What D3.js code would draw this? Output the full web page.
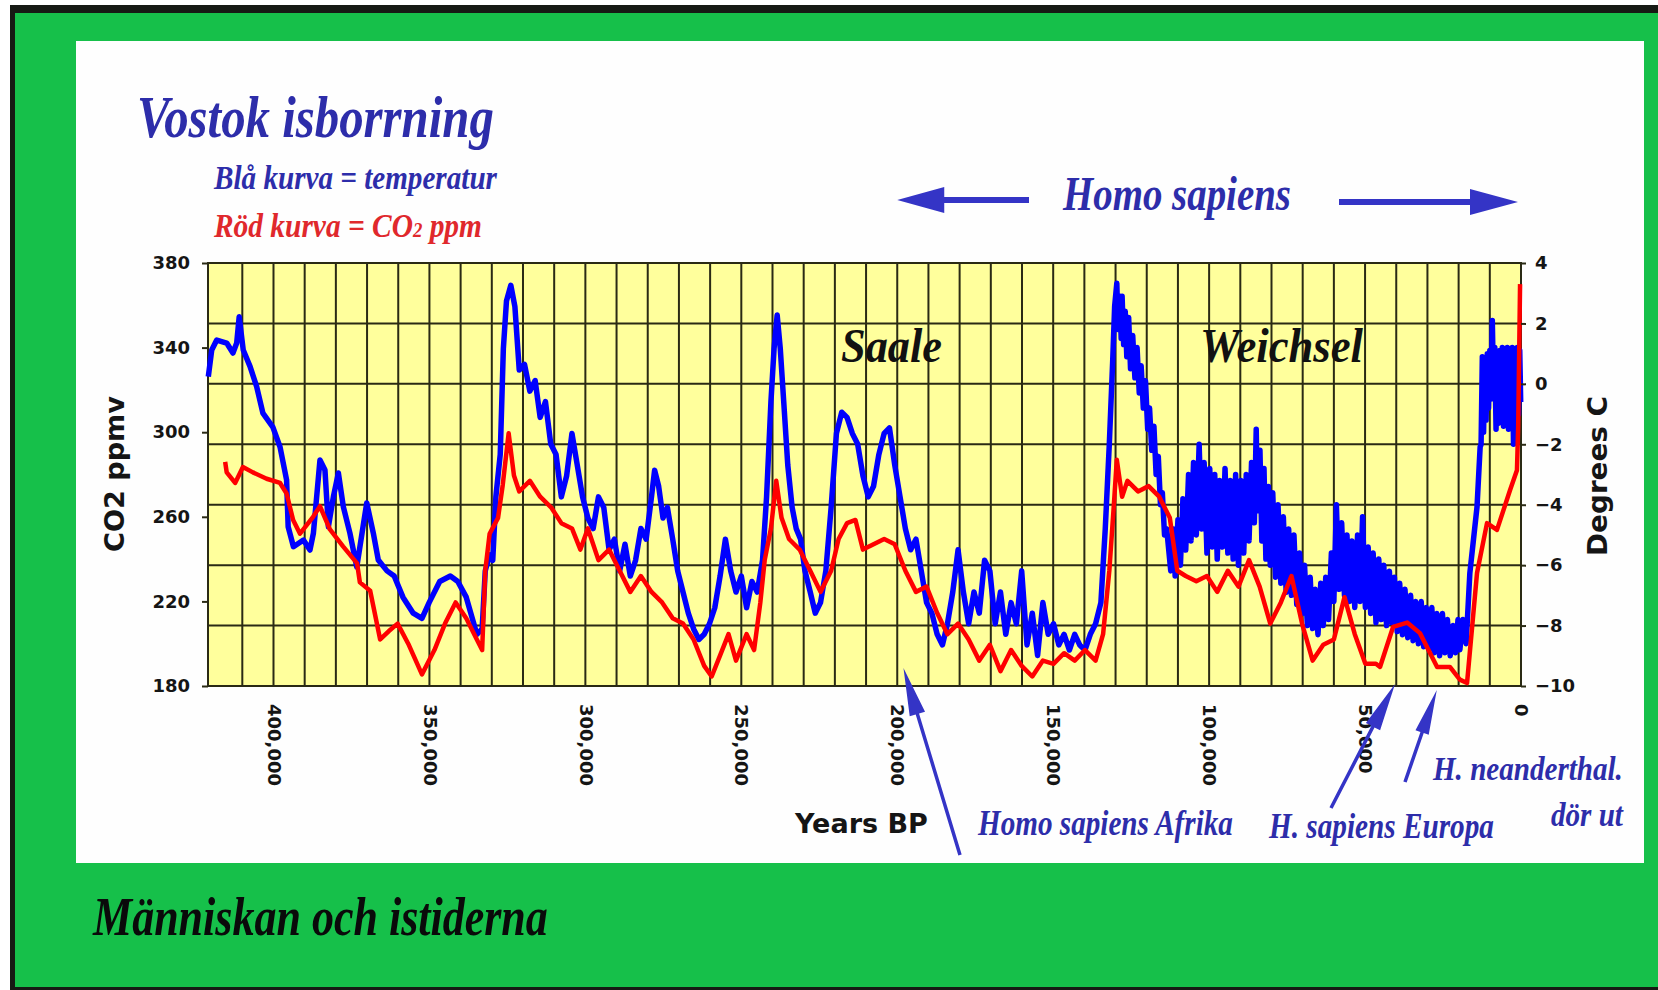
<!DOCTYPE html>
<html>
<head>
<meta charset="utf-8">
<script src="https://cdn.jsdelivr.net/npm/d3@7"></script>
<style>
  html, body { margin: 0; padding: 0; background: #fff; }
  svg { display: block; }
</style>
</head>
<body>
<div id="chart"></div>
<script>
// ages in thousand years BP
const co2Ages = [415.5, 415, 412.3, 409.8, 406.6, 402.2, 397.9, 395.8, 393.7, 391.5, 387.3, 385.1, 381.9, 377.7,
  373.2, 372.3, 369, 365.8, 363, 360.2, 356.8, 352.4, 348.4, 345, 341.6, 338.2, 334.8, 333.1, 332.1, 330.7,
  328, 326.5, 324.6, 322.9, 321.2, 317.8, 314.5, 311, 307.7, 304.3, 301.6, 299.2, 295.8, 292.4, 289, 285.6,
  282.2, 278.8, 275.4, 272, 268.7, 265.3, 261.9, 259.5, 256.8, 254.1, 251.7, 248.3, 245.9, 243.9, 242.5,
  240.5, 238.8, 237.1, 234.7, 231.3, 227.9, 224.6, 221.2, 218.8, 216.1, 213.4, 211, 207.6, 204.2, 200.8,
  197.4, 194, 190.6, 187.2, 183.9, 180.5, 177.1, 173.7, 170.3, 166.9, 163.5, 160.1, 156.7, 153.3, 149.9,
  146.5, 143.1, 139.8, 136.4, 134, 132, 130.6, 129.6, 127.9, 126.2, 122.8, 119.4, 116, 112.6, 110.2, 107.5,
  104.1, 100.7, 97.4, 94, 90.6, 87.2, 83.8, 80.4, 77, 73.6, 70.2, 66.8, 63.4, 60, 56.6, 53.3, 49.9, 46.5,
  45.2, 41, 36.5, 32.4, 26.9, 22.8, 19.6, 17.3, 14.1, 10.9, 7.7, 3.5, 1.3, 0.9, 0.3];
const co2Values = [286, 281, 276, 283.5, 281, 278, 276, 271, 258.5, 252, 260, 265, 254, 246,
  238, 229, 225, 202, 206, 209.5, 200, 185.5, 197, 209.5, 219.5, 212, 202, 197, 234.5, 252,
  259.5, 275, 299.5, 279.5, 272, 277, 269.5, 264.5, 257, 254.5, 244.5, 254.5, 239.5, 244.5, 234.5, 224.5,
  232, 224.5, 219.5, 212, 209.5, 202, 189.5, 184.5, 194.5, 204.5, 192, 204.5, 197, 219.5, 239.5,
  254.5, 277, 259.5, 249.5, 244.5, 234.5, 224.5, 234.5, 249.5, 257, 258.5, 244.5, 247, 249.5, 247,
  234.5, 224.5, 227, 214.5, 204.5, 209.5, 202, 192, 199.5, 187, 197, 189.5, 184.5, 192, 190.5,
  195.5, 192, 197, 192, 204.5, 234.5, 264.5, 287, 269.5, 277, 272, 274.5, 269.5, 259.5, 234.5, 232,
  229.5, 232, 224.5, 234.5, 227, 239.5, 227, 209.5, 219.5, 232, 209.5, 192, 199.5, 202, 222, 204.5, 190.5, 190.5,
  189, 208, 210, 205, 189, 189, 183, 181.4, 233.4, 257, 253.8, 272.7, 282, 302.5, 370];

const tempAges = [420.9, 419.8, 418.2, 415, 413, 411.8, 411, 409.7, 407.5, 405.4, 403.4, 400.2, 397.9, 395.8,
  395.3, 393.6, 390.4, 388.3, 387.2, 385.1, 383.5, 382.4, 380.8, 379.2, 377.6, 375.5, 373.3, 370.1, 368,
  366.4, 363.6, 361.3, 358.5, 355.2, 352.4, 350.1, 346.7, 343.3, 340.9, 338.2, 334.8, 333.1, 332.1, 330.7,
  329.7, 328.7, 327.3, 326.3, 325.3, 323.9, 322.6, 321.2, 319.5, 317.8, 316.1, 314.5, 312.8, 311.1, 309.4,
  307.7, 306, 304.3, 302.6, 300.9, 299.2, 297.5, 295.8, 294.1, 292.4, 290.7, 289, 287.3, 285.6, 283.9,
  282.2, 280.5, 278.8, 277.8, 276.5, 275.1, 273.7, 272, 270.4, 268.7, 267, 265.3, 263.6, 261.9, 260.2,
  258.5, 256.8, 255.1, 253.4, 251.7, 250, 248.3, 246.6, 244.9, 243.2, 241.9, 240.5, 239.5, 238.5, 237.5,
  236.4, 235.1, 233.7, 232.4, 231, 229.6, 227.9, 226.3, 224.6, 222.9, 221.2, 219.5, 217.8, 216.1, 214.4,
  212.7, 211, 209.3, 207.6, 205.9, 204.2, 202.5, 200.8, 199.1, 197.4, 195.7, 194, 192.3, 190.6, 188.9,
  187.2, 185.5, 183.9, 182.2, 180.5, 178.8, 177.1, 175.4, 173.7, 172, 170.3, 168.6, 166.9, 165.2, 163.5,
  161.8, 160.1, 158.4, 156.7, 155, 153.3, 151.6, 149.9, 148.2, 146.5, 144.8, 143.1, 141.5, 139.8, 138.1,
  136.4, 134.7, 133.3, 132, 130.9, 130.3, 129.6, 129.2, 128.6, 128.2, 127.9, 127.4, 126.9, 126.4, 125.8,
  125.2, 124.5, 123.8, 123.1, 122.4, 121.8, 121.1, 120.4, 119.7, 119.1, 118.4, 117.7, 117, 116.3, 115.6,
  115, 114.3, 113.6,
  112.3, 111.4, 110.9, 110.0, 109.2, 108.4, 107.5, 106.6, 105.8, 105.0,
  104.1, 103.2, 102.4, 101.6, 100.7, 99.8, 99.0, 98.2, 97.4, 96.6,
  95.7, 94.9, 94.0, 93.2, 92.3, 91.5, 90.6, 89.8, 88.9, 88.1,
  87.2, 86.4, 85.5, 84.9, 84.5, 83.7, 83.1, 82.4, 81.8, 81.0,
  80.4, 79.6, 78.7, 77.9, 77.0, 76.2, 75.3, 74.5, 73.6, 72.8,
  71.9, 71.0, 70.2, 69.4, 68.5, 67.6, 66.8, 66.0, 65.1, 64.2,
  63.4, 62.6, 61.7, 60.8, 60.0, 59.2, 58.3, 57.5, 56.6, 55.8,
  55.0, 54.2, 53.3, 52.4, 51.6, 50.8, 49.9, 49.0, 48.2, 47.4,
  46.5, 45.6, 44.8, 44.0, 43.1, 42.2, 41.4, 40.6, 39.7, 38.9,
  38.0, 37.2, 36.3, 35.4, 34.6, 33.8, 32.9, 32.0, 31.2, 30.4,
  29.5, 28.6, 27.8, 27.0, 26.1, 25.2, 24.4, 23.6, 22.7, 21.8,
  21.0, 20.2, 19.6, 18.6, 17.6, 16.4, 14.1, 13.1,
  12.8, 12.4, 12, 11.6, 11.2, 10.8, 10.4, 10, 9.6, 9.2, 8.8, 8.4, 8, 7.6, 7.2, 6.8, 6.4, 6, 5.6, 5.2,
  4.8, 4.4, 4, 3.6, 3.2, 2.8, 2.4, 2, 1.6, 1.2, 0.8, 0.4, 0.1];
const tempValues = [0.24, 1.12, 1.45, 1.35, 1.02, 1.35, 2.22, 1.12, 0.57, -0.09, -0.97, -1.43, -2.09, -3.18,
  -4.73, -5.39, -5.17, -5.5, -4.94, -2.52, -2.85, -4.73, -3.74, -2.95, -4.07, -4.94, -6.06, -3.94, -4.94,
  -5.83, -6.19, -6.36, -7.06, -7.59, -7.76, -7.24, -6.54, -6.36, -6.54, -7.06, -8.29, -8.11, -6.19, -5.66,
  -5.84, -3.74, -2.34, 1.16, 2.74, 3.26, 2.56, 0.46, 0.64, -0.24, 0.11, -1.11, -0.59, -1.99, -2.34,
  -3.74, -3.04, -1.64, -2.69, -3.74, -4.44, -4.79, -3.74, -4.09, -5.49, -5.14, -6.19, -5.31, -6.36, -5.84,
  -4.79, -5.14, -3.74, -2.86, -3.39, -4.44, -4.09, -5.14, -6.19, -6.89, -7.59, -8.11, -8.46, -8.29, -7.94,
  -7.41, -6.36, -5.14, -6.19, -6.89, -6.36, -7.41, -6.54, -6.89, -5.84, -3.74, -0.59, 1.16, 2.28, 1.16,
  -0.59, -2.69, -4.09, -4.79, -5.14, -6.19, -6.89, -7.59, -7.24, -6.19, -4.09, -1.64, -0.94, -1.11, -1.64,
  -1.99, -3.04, -3.74, -3.39, -2.34, -1.64, -1.46, -2.69, -3.74, -4.79, -5.49, -5.14, -6.19, -7.24, -7.59,
  -8.29, -8.64, -7.94, -6.89, -5.49, -6.89, -7.94, -6.89, -7.59, -5.84, -6.19, -7.94, -6.89, -8.29, -7.24,
  -7.94, -6.19, -8.64, -7.59, -8.99, -7.24, -8.29, -7.94, -8.64, -8.29, -8.81, -8.29, -8.64, -8.81, -8.29,
  -7.94, -7.24, -4.79, -1.99, 0.81, 2.56, 3.33, 1.8, 2.9, 1.5, 2.9, 1.3, 2.4, 0.9, 2.2,
  0.5, 1.6, 0.2, 1.2, -0.3, 0.6, -0.8, 0.1, -1.5, -0.8, -2.2, -1.4, -3.0, -2.4, -4.0,
  -3.6, -5.0, -4.8,
  -6.19, -4.8, -6.36, -4.5, -6.0, -3.8, -5.5, -3.0, -5.2, -2.6,
  -5.0, -2.0, -4.8, -2.6, -5.6, -2.8, -5.4, -3.0, -5.8, -3.2,
  -5.4, -2.8, -5.6, -3.2, -5.8, -3.0, -6.0, -3.2, -5.6, -3.0,
  -5.2, -2.6, -4.6, -1.5, -4.2, -2.2, -5.2, -2.8, -5.8, -3.4,
  -6.0, -3.6, -6.4, -4.0, -6.6, -4.4, -6.9, -4.8, -7.0, -5.0,
  -7.3, -5.6, -7.6, -6.0, -8.0, -6.4, -8.1, -6.8, -8.3, -6.6,
  -8.0, -6.4, -7.8, -5.6, -7.2, -4.0, -6.8, -4.6, -7.0, -5.0,
  -7.2, -5.2, -7.4, -5.0, -7.2, -4.4, -7.4, -5.4, -7.6, -5.6,
  -7.9, -5.8, -7.8, -6.0, -8.0, -6.2, -7.9, -6.4, -8.2, -6.6,
  -8.3, -6.8, -8.4, -7.0, -8.5, -7.2, -8.6, -7.2, -8.7, -7.4,
  -8.8, -7.4, -8.9, -7.6, -9.0, -7.6, -8.9, -7.8, -9.0, -8.0,
  -8.9, -7.8, -8.8, -7.8, -8.6, -6.26, -4.07, -2.09,
  -2.0, 0.9, -1.6, 0.8, -1.2, 1.0, -0.8, 1.1, -0.5, 2.1, -0.2, 1.2, -1.5, 1.0, -1.3, 1.1, -1.0, 1.2, -1.4, 1.1,
  -1.0, 1.2, -1.5, 1.1, -1.2, 1.2, -2.0, 1.0, -1.6, 1.2, -1.0, 1.1, -0.6];

const co2Ticks = [380, 340, 300, 260, 220, 180];
const tempTicks = [4, 2, 0, -2, -4, -6, -8, -10];
const yearTicks = [400, 350, 300, 250, 200, 150, 100, 50, 0];
const gridYears = d3.range(410, 0, -10);

(function() {
  const W = 1658, H = 990;
  const green = "#16c04a", yellow = "#ffff9c", gridCol = "#2a2a14";
  const navy = "#2d2daa", arrowBlue = "#3434c6", redText = "#e0282c";

  const svg = d3.select("#chart").append("svg")
    .attr("width", W).attr("height", H);

  // frame
  svg.append("rect").attr("width", W).attr("height", H).attr("fill", "#fff");
  svg.append("rect").attr("x", 10).attr("y", 5).attr("width", W - 10).attr("height", H - 5).attr("fill", "#161a14");
  svg.append("rect").attr("x", 15).attr("y", 13).attr("width", W - 15).attr("height", 974).attr("fill", green);
  svg.append("rect").attr("x", 76).attr("y", 41).attr("width", 1568).attr("height", 822).attr("fill", "#fefefe");

  const pL = 208, pR = 1521, pT = 263, pB = 686;
  const x = d3.scaleLinear().domain([421, 0]).range([pL, pR]);
  const yC = d3.scaleLinear().domain([180, 380]).range([pB, pT]);
  const yT = d3.scaleLinear().domain([-10, 4]).range([pB, pT]);

  // plot background + grid
  svg.append("rect").attr("x", pL).attr("y", pT).attr("width", pR - pL).attr("height", pB - pT)
    .attr("fill", yellow);

  svg.append("g").selectAll("line").data(gridYears).join("line")
    .attr("x1", d => x(d)).attr("x2", d => x(d))
    .attr("y1", pT).attr("y2", pB)
    .attr("stroke", gridCol).attr("stroke-width", 2);
  svg.append("g").selectAll("line").data(tempTicks).join("line")
    .attr("x1", pL).attr("x2", pR)
    .attr("y1", d => yT(d)).attr("y2", d => yT(d))
    .attr("stroke", gridCol).attr("stroke-width", 2);
  svg.append("rect").attr("x", pL).attr("y", pT).attr("width", pR - pL).attr("height", pB - pT)
    .attr("fill", "none").attr("stroke", gridCol).attr("stroke-width", 2);

  // curves
  const tempLine = d3.line().x((d, i) => x(tempAges[i])).y(d => yT(d));
  const co2Line = d3.line().x((d, i) => x(co2Ages[i])).y(d => yC(d));

  svg.append("path").datum(tempValues).attr("d", tempLine)
    .attr("fill", "none").attr("stroke", "#0000ff").attr("stroke-width", 5.5).attr("stroke-linejoin", "round");
  svg.append("path").datum(co2Values).attr("d", co2Line)
    .attr("fill", "none").attr("stroke", "#ff0000").attr("stroke-width", 4.5).attr("stroke-linejoin", "round");

  // axes
  const axisFont = "'DejaVu Sans', Verdana, sans-serif";
  const leftAxis = svg.append("g").attr("transform", `translate(${pL},0)`)
    .call(d3.axisLeft(yC).tickValues(co2Ticks).tickSize(6).tickPadding(12));
  const rightAxis = svg.append("g").attr("transform", `translate(${pR},0)`)
    .call(d3.axisRight(yT).tickValues(tempTicks).tickSize(5).tickPadding(9));
  const bottomAxis = svg.append("g").attr("transform", `translate(0,${pB})`)
    .call(d3.axisBottom(x).tickValues(yearTicks).tickSize(0).tickFormat(d => d3.format(",")(d * 1000)));

  [leftAxis, rightAxis, bottomAxis].forEach(a => {
    a.select(".domain").remove();
    a.selectAll("line").attr("stroke", gridCol).attr("stroke-width", 2);
    a.selectAll("text").attr("fill", "#151515")
      .style("font-family", axisFont).style("font-weight", "bold").style("font-size", "18px");
  });
  bottomAxis.selectAll("text")
    .attr("transform", "rotate(90)").attr("x", 18).attr("y", 0).attr("dy", "0.35em")
    .attr("text-anchor", "start");

  // texts: drawn at the origin, then squeezed to the width seen in the picture
  const serif = "'Liberation Serif', 'Times New Roman', serif";
  function label(parts, xPos, yPos, size, len, color, opts = {}) {
    const el = svg.append("text")
      .attr("x", 0).attr("y", 0)
      .attr("fill", color)
      .style("font-family", opts.family || serif)
      .style("font-weight", "bold")
      .style("font-style", opts.family ? "normal" : "italic")
      .style("font-size", size + "px");
    if (typeof parts === "string") parts = [[parts, size]];
    parts.forEach(([t, s]) => el.append("tspan").style("font-size", s + "px").text(t));
    if (opts.anchor) el.attr("text-anchor", opts.anchor);
    const natural = el.node().getComputedTextLength();
    const sx = len ? len / natural : 1;
    el.attr("transform", `translate(${xPos},${yPos})` + (opts.rotate ? ` rotate(${opts.rotate})` : "") + ` scale(${sx},1)`);
    return el;
  }

  label("Vostok isborrning", 137, 137, 60, 357, navy);
  label("Blå kurva = temperatur", 214, 189, 33, 283, navy);
  label([["Röd kurva = CO", 33], ["2", 21], [" ppm", 33]], 214, 237, 33, 268, redText);

  label("Homo sapiens", 1063, 210, 48, 228, navy);
  label("Saale", 841, 362, 48, 101, "#111");
  label("Weichsel", 1200, 362, 48, 163, "#111");

  label("CO2 ppmv", 124, 474, 26, 156, "#151515", { family: axisFont, anchor: "middle", rotate: -90 });
  label("Degrees C", 1607, 476, 27, 160, "#151515", { family: axisFont, anchor: "middle", rotate: -90 });
  label("Years BP", 795, 833, 26, 133, "#151515", { family: axisFont });

  label("Homo sapiens Afrika", 978, 835, 36, 255, navy);
  label("H. sapiens Europa", 1269, 838, 36, 225, navy);
  label("H. neanderthal.", 1433, 780, 34, 190, navy);
  label("dör ut", 1551, 826, 34, 72, navy);

  label("Människan och istiderna", 93, 935, 55, 455, "#0a0a0a");

  // arrows
  function arrow(x1, y1, x2, y2, headLen, headHalf, shaft) {
    const dx = x2 - x1, dy = y2 - y1, len = Math.hypot(dx, dy);
    const ux = dx / len, uy = dy / len, px = -uy, py = ux;
    const bx = x2 - ux * headLen, by = y2 - uy * headLen;
    const pts = [
      [x1 + px * shaft / 2, y1 + py * shaft / 2],
      [bx + px * shaft / 2, by + py * shaft / 2],
      [bx + px * headHalf, by + py * headHalf],
      [x2, y2],
      [bx - px * headHalf, by - py * headHalf],
      [bx - px * shaft / 2, by - py * shaft / 2],
      [x1 - px * shaft / 2, y1 - py * shaft / 2]
    ];
    svg.append("path").attr("d", "M" + pts.map(p => p.join(",")).join("L") + "Z").attr("fill", arrowBlue);
  }

  arrow(1029, 200, x(200), 200, 47, 13, 6);
  arrow(1339, 202, x(0) - 3, 202, 48, 13, 6);
  arrow(960, 855, x(198), 668, 48, 8, 3.5);
  arrow(1331, 808, x(40.4), 684, 48, 8, 3.5);
  arrow(1405, 782, x(27), 690, 45, 7, 3.5);
})();
</script>
</body>
</html>
